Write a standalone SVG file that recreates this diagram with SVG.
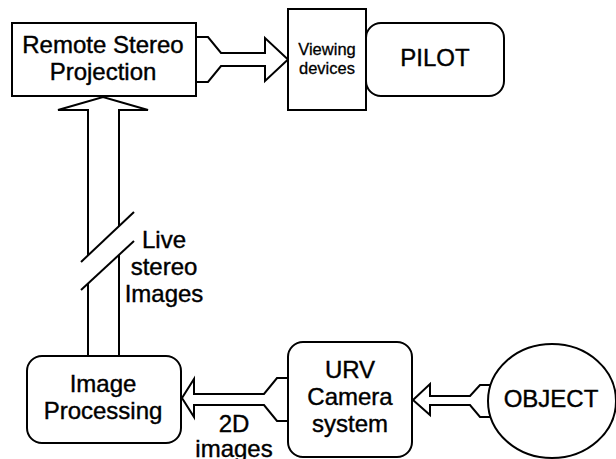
<svg xmlns="http://www.w3.org/2000/svg" width="616" height="459" viewBox="0 0 616 459">
<style>
.box{fill:#fff;stroke:#000;stroke-width:2}
.arr{fill:#fff;stroke:#000;stroke-width:2;stroke-linejoin:miter}
.ln{fill:none;stroke:#000;stroke-width:2}
text{font-family:"Liberation Sans",Arial,sans-serif;font-size:24px;fill:#000;stroke:#000;stroke-width:0.4;text-anchor:middle}
.sm{font-size:16.5px;stroke-width:0.3}
</style>
<rect width="616" height="459" fill="#fff"/>
<g id="connectors">
  <polyline class="arr" points="196,37 208,37 221,53 265,53 265,38 288,59.5 265,81 265,66 221,66 208,82 196,82"/>
  <polyline class="arr" points="88,255 88,110 58,110 103,97 148,110 119,110 119,226"/>
  <line class="ln" x1="88" y1="284" x2="88" y2="356"/>
  <line class="ln" x1="119" y1="255" x2="119" y2="356"/>
  <line class="ln" x1="81" y1="262" x2="134" y2="212"/>
  <line class="ln" x1="81" y1="290" x2="134" y2="241"/>
  <polyline class="arr" points="288,378 277,378 264,394 194,394 194,379 182,398 194,417 194,405 264,405 277,421 288,421"/>
  <polyline class="arr" points="492,385 480,385 470,396 430,396 430,384 413,400 430,415 430,405 470,405 480,417 492,417"/>
  <text x="164" y="248">Live</text>
  <text x="164" y="275">stereo</text>
  <text x="164" y="302">Images</text>
  <text x="234" y="432">2D</text>
  <text x="234" y="457">images</text>
</g>
<g id="remote">
  <rect class="box" x="12" y="23" width="184" height="73"/>
  <text x="103" y="53">Remote Stereo</text>
  <text x="103" y="80">Projection</text>
</g>
<g id="viewing">
  <rect class="box" x="288" y="9" width="78" height="101"/>
  <text class="sm" x="327" y="55">Viewing</text>
  <text class="sm" x="327" y="74">devices</text>
</g>
<g id="pilot">
  <rect class="box" x="366" y="23" width="138" height="73" rx="15"/>
  <text x="435" y="66">PILOT</text>
</g>
<g id="imgproc">
  <rect class="box" x="27" y="356" width="154" height="87" rx="15"/>
  <text x="103" y="392">Image</text>
  <text x="103" y="419">Processing</text>
</g>
<g id="urv">
  <rect class="box" x="288" y="342" width="124" height="115" rx="15"/>
  <text x="350" y="378">URV</text>
  <text x="350" y="405">Camera</text>
  <text x="350" y="432">system</text>
</g>
<g id="object">
  <ellipse class="box" cx="552" cy="401" rx="64" ry="57"/>
  <text x="551" y="407">OBJECT</text>
</g>
</svg>
